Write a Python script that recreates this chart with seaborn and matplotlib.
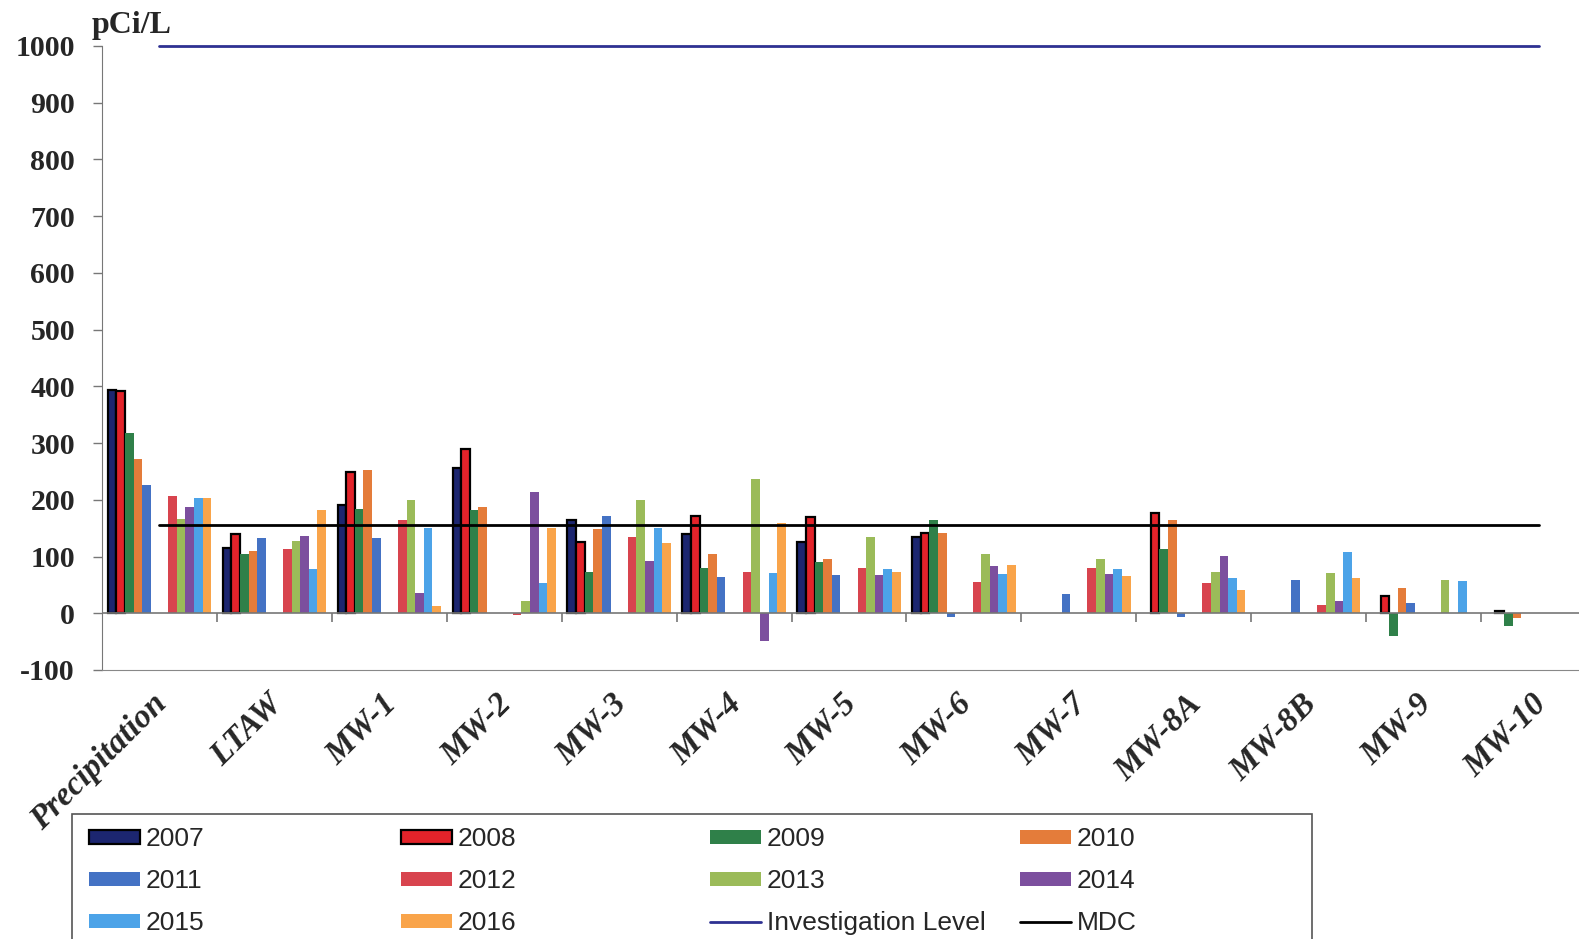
import numpy as np
import pandas as pd
import matplotlib
matplotlib.use('Agg')
import matplotlib.pyplot as plt
import seaborn as sns
from matplotlib.patches import Patch, Rectangle
from matplotlib.lines import Line2D
from matplotlib.colors import to_rgba
from matplotlib.transforms import ScaledTranslation

nan = np.nan

sites = ['Precipitation', 'LTAW', 'MW-1', 'MW-2', 'MW-3', 'MW-4', 'MW-5',
         'MW-6', 'MW-7', 'MW-8A', 'MW-8B', 'MW-9', 'MW-10']
years = ['2007', '2008', '2009', '2010', '2011',
         '2012', '2013', '2014', '2015', '2016']

y2007 = [393, 115, 191, 256, 165, 140, 126, 134, nan, nan, nan, nan, nan]
y2008 = [392, 140, 249, 289, 126, 171, 170, 141, nan, 177, nan, 31, 4]
y2009 = [317, 104, 184, 182, 72, 79, 90, 165, nan, 113, nan, -40, -22]
y2010 = [272, 110, 253, 188, 148, 104, 95, 142, nan, 164, nan, 45, -9]
y2011 = [226, 133, 132, nan, 171, 64, 67, -6, 34, -7, 58, 18, nan]
y2012 = [206, 113, 165, -3, 135, 73, 80, 56, 79, 53, 14, nan, nan]
y2013 = [167, 128, 199, 22, 200, 237, 134, 105, 95, 72, 71, 59, nan]
y2014 = [187, 137, 35, 213, 93, -48, 67, 83, 69, 101, 21, nan, nan]
y2015 = [204, 78, 151, 53, 151, 71, 78, 69, 78, 62, 108, 57, nan]
y2016 = [203, 182, 12, 151, 124, 159, 73, 85, 66, 41, 63, nan, nan]

investigation_level = 1000
mdc = 155

colors = {'2007': '#1c2670', '2008': '#e3232a', '2009': '#2f8049',
          '2010': '#e47c3a', '2011': '#4472c4', '2012': '#d8444e',
          '2013': '#9bbb59', '2014': '#7c4f9e', '2015': '#4ca3e8',
          '2016': '#f9a44a'}
inv_color = '#2e3192'

values = [y2007, y2008, y2009, y2010, y2011, y2012, y2013, y2014, y2015, y2016]
rows = [(s, yr, v) for yr, arr in zip(years, values) for s, v in zip(sites, arr)]
df = pd.DataFrame(rows, columns=['site', 'year', 'value']).dropna()

# two empty slots sit between 2011 and 2012 in every group
hue_order = years[:5] + [' ', '  '] + years[5:]
palette = dict(colors)
palette[' '] = 'white'
palette['  '] = 'white'

sns.set_style('white')
plt.rcParams['font.family'] = ['Liberation Serif', 'DejaVu Serif']
plt.rcParams['axes.unicode_minus'] = False

fig = plt.figure(figsize=(15.79, 9.39), dpi=100)
ax = fig.add_axes([102 / 1579, 269 / 939, 1494 / 1579, 624 / 939])

sns.barplot(data=df, x='site', y='value', hue='year', order=sites,
            hue_order=hue_order, palette=palette, errorbar=None, width=0.9,
            saturation=1, legend=False, linewidth=0, ax=ax)

edged = [tuple(np.round(to_rgba(colors[y]), 3)) for y in ('2007', '2008')]
for p in ax.patches:
    if tuple(np.round(p.get_facecolor(), 3)) in edged:
        p.set_edgecolor('black')
        p.set_linewidth(1.6)

xs = np.arange(len(sites))
ax.plot(xs, np.full(len(xs), investigation_level), color=inv_color, lw=2, clip_on=False, zorder=5)
ax.plot(xs, np.full(len(xs), mdc), color='black', lw=2, zorder=5)

ax.axhline(0, color='#777777', lw=1.2, zorder=1)
ax.vlines(xs[:-1] + 0.5, -16, 0, color='#777777', lw=1.2)

ax.set_xlim(-0.5, len(sites) - 0.5)
ax.set_ylim(-100, 1000)
ax.set_yticks(range(-100, 1001, 100))
ax.set_xlabel('')
ax.set_ylabel('')
for side in ['top', 'right']:
    ax.spines[side].set_visible(False)
ax.spines['left'].set_color('#777777')
ax.spines['bottom'].set_color('#888888')

ax.tick_params(axis='y', direction='out', length=6.5, width=1, color='#777777',
               labelsize=21.5, pad=13, left=True)
for lab in ax.get_yticklabels():
    lab.set_fontweight('bold')

ax.tick_params(axis='x', length=0, pad=21)
ax.set_xticks(xs)
ax.set_xticklabels(sites, rotation=45, ha='right', va='center',
                   rotation_mode='anchor', fontsize=24, fontweight='bold',
                   fontstyle='italic')
shift = ScaledTranslation(2 / 72, 0, fig.dpi_scale_trans)
for lab in ax.get_xticklabels():
    lab.set_transform(lab.get_transform() + shift)

fig.text(92 / 1579, 1 - 11 / 939, 'pCi/L', ha='left', va='top', fontsize=23,
         fontweight='bold')

# legend frame, cut off by the bottom of the picture
fig.patches.append(Rectangle((72 / 1579, -0.1), (1312 - 72) / 1579, 0.1 + (939 - 814) / 939,
                             transform=fig.transFigure, fill=False,
                             edgecolor='#555555', lw=1.2))


def bar_handle(yr):
    if yr in ('2007', '2008'):
        return Patch(facecolor=colors[yr], edgecolor='black', lw=1.6)
    return Patch(facecolor=colors[yr], edgecolor='none')


columns = [
    (89, [bar_handle('2007'), bar_handle('2011'), bar_handle('2015')], ['2007', '2011', '2015']),
    (401, [bar_handle('2008'), bar_handle('2012'), bar_handle('2016')], ['2008', '2012', '2016']),
    (710, [bar_handle('2009'), bar_handle('2013'), Line2D([], [], color=inv_color, lw=2)],
     ['2009', '2013', 'Investigation Level']),
    (1020, [bar_handle('2010'), bar_handle('2014'), Line2D([], [], color='black', lw=2)],
     ['2010', '2014', 'MDC']),
]
for x0, hs, ls in columns:
    fig.legend(hs, ls, loc='upper left', bbox_to_anchor=(x0 / 1579, (939 - 827) / 939),
               frameon=False, borderpad=0, borderaxespad=0, handlelength=1.95,
               handleheight=0.45, handletextpad=0.2, labelspacing=0.69,
               prop={'family': 'Liberation Sans', 'size': 19})

fig.savefig('out.png', dpi=100)
